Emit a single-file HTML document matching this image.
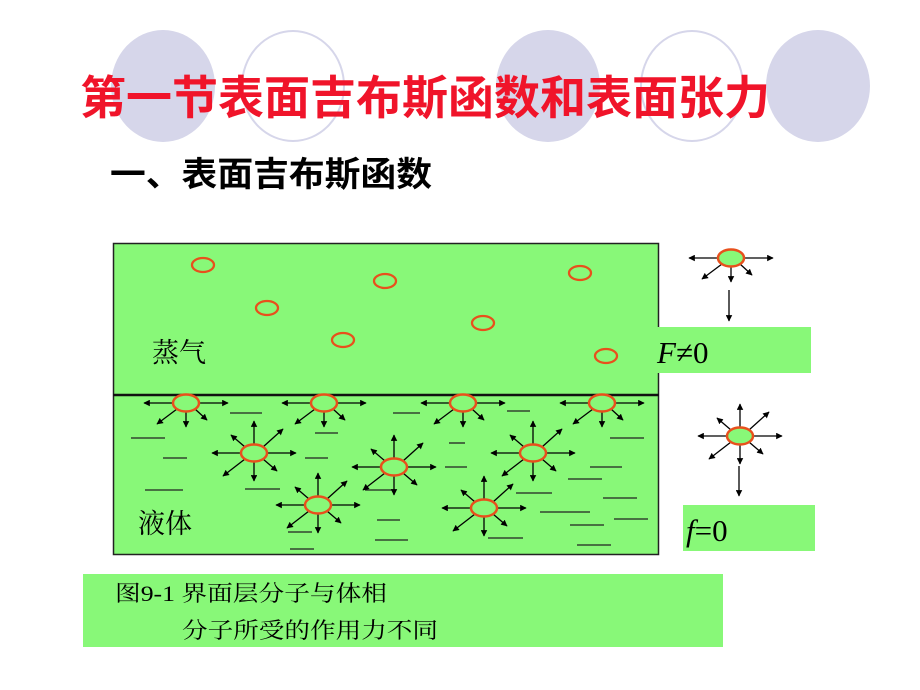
<!DOCTYPE html>
<html><head><meta charset="utf-8"><style>
html,body{margin:0;padding:0;background:#fff;width:920px;height:690px;overflow:hidden}
svg{display:block}
text{font-family:"Liberation Serif","Noto Serif CJK SC","Noto Sans CJK SC",serif}
</style></head><body>
<svg width="920" height="690" viewBox="0 0 920 690" xmlns="http://www.w3.org/2000/svg">
<defs>
<marker id="a" viewBox="0 0 10 10" refX="9" refY="5" markerWidth="5" markerHeight="5" orient="auto"><path d="M0,0L10,5L0,10z" fill="#000"/></marker>
<g id="surf">
<line x1="-13" y1="0" x2="-42" y2="0" stroke="#000" stroke-width="1.3" marker-end="url(#a)"/>
<line x1="13" y1="0" x2="42" y2="0" stroke="#000" stroke-width="1.3" marker-end="url(#a)"/>
<line x1="-9" y1="6" x2="-29" y2="21" stroke="#000" stroke-width="1.3" marker-end="url(#a)"/>
<line x1="0" y1="9" x2="0" y2="24" stroke="#000" stroke-width="1.3" marker-end="url(#a)"/>
<line x1="9" y1="6" x2="21" y2="17" stroke="#000" stroke-width="1.3" marker-end="url(#a)"/>
<ellipse cx="0" cy="0" rx="13" ry="8.5" fill="#88f878" stroke="#e8501c" stroke-width="2.5"/>
</g>
<g id="bulk">
<line x1="-13" y1="0" x2="-42" y2="0" stroke="#000" stroke-width="1.3" marker-end="url(#a)"/>
<line x1="13" y1="0" x2="42" y2="0" stroke="#000" stroke-width="1.3" marker-end="url(#a)"/>
<line x1="0" y1="-9" x2="0" y2="-32" stroke="#000" stroke-width="1.3" marker-end="url(#a)"/>
<line x1="0" y1="9" x2="0" y2="28" stroke="#000" stroke-width="1.3" marker-end="url(#a)"/>
<line x1="-9" y1="-6" x2="-23" y2="-18" stroke="#000" stroke-width="1.3" marker-end="url(#a)"/>
<line x1="9" y1="-6" x2="29" y2="-24" stroke="#000" stroke-width="1.3" marker-end="url(#a)"/>
<line x1="-9" y1="6" x2="-31" y2="23" stroke="#000" stroke-width="1.3" marker-end="url(#a)"/>
<line x1="9" y1="6" x2="23" y2="18" stroke="#000" stroke-width="1.3" marker-end="url(#a)"/>
<ellipse cx="0" cy="0" rx="13" ry="8.5" fill="#88f878" stroke="#e8501c" stroke-width="2.5"/>
</g>
</defs>
<ellipse cx="163" cy="86" rx="52" ry="56" fill="#d6d6ea"/>
<ellipse cx="293" cy="86" rx="51" ry="55" fill="#fff" stroke="#d6d6ea" stroke-width="2"/>
<ellipse cx="548" cy="86" rx="52" ry="56" fill="#d6d6ea"/>
<ellipse cx="692" cy="86" rx="51" ry="55" fill="#fff" stroke="#d6d6ea" stroke-width="2"/>
<ellipse cx="818" cy="86" rx="52" ry="56" fill="#d6d6ea"/>
<text x="80" y="114" font-size="46" fill="#f0142a" font-weight="bold" textLength="690" lengthAdjust="spacingAndGlyphs" style="font-family:'Noto Sans CJK SC',sans-serif">第一节表面吉布斯函数和表面张力</text>
<text x="110" y="186" font-size="34" fill="#000" font-weight="bold" textLength="322" lengthAdjust="spacingAndGlyphs" style="font-family:'Noto Sans CJK SC',sans-serif">一、表面吉布斯函数</text>
<rect x="113.5" y="243.5" width="545" height="311" fill="#88f878" stroke="#222" stroke-width="1.5"/>
<line x1="113" y1="395" x2="659" y2="395" stroke="#111" stroke-width="2.5"/>
<g fill="none" stroke="#e8501c" stroke-width="2.3">
<ellipse cx="203" cy="265" rx="11" ry="7"/>
<ellipse cx="385" cy="281" rx="11" ry="7"/>
<ellipse cx="580" cy="273" rx="11" ry="7"/>
<ellipse cx="267" cy="308" rx="11" ry="7"/>
<ellipse cx="483" cy="323" rx="11" ry="7"/>
<ellipse cx="343" cy="340" rx="11" ry="7"/>
<ellipse cx="606" cy="356" rx="11" ry="7"/>
</g>
<text x="152" y="362" font-size="27" fill="#000" style="font-family:'Noto Serif CJK SC',serif">蒸气</text>
<text x="138" y="533" font-size="27" fill="#000" style="font-family:'Noto Serif CJK SC',serif">液体</text>
<g stroke="#222" stroke-width="1.3">
<line x1="230" y1="413" x2="262" y2="413"/><line x1="393" y1="413" x2="420" y2="413"/>
<line x1="507" y1="411" x2="530" y2="411"/><line x1="610" y1="438" x2="644" y2="438"/>
<line x1="131" y1="438" x2="165" y2="438"/><line x1="163" y1="458" x2="187" y2="458"/>
<line x1="145" y1="490" x2="183" y2="490"/><line x1="245" y1="489" x2="280" y2="489"/>
<line x1="315" y1="433" x2="338" y2="433"/><line x1="305" y1="458" x2="328" y2="458"/>
<line x1="449" y1="443" x2="465" y2="443"/><line x1="445" y1="467" x2="467" y2="467"/>
<line x1="590" y1="467" x2="622" y2="467"/><line x1="568" y1="479" x2="602" y2="479"/>
<line x1="516" y1="493" x2="552" y2="493"/><line x1="603" y1="498" x2="637" y2="498"/>
<line x1="540" y1="512" x2="590" y2="512"/><line x1="614" y1="519" x2="648" y2="519"/>
<line x1="570" y1="525" x2="604" y2="525"/><line x1="577" y1="545" x2="611" y2="545"/>
<line x1="288" y1="532" x2="312" y2="532"/><line x1="290" y1="549" x2="314" y2="549"/>
<line x1="377" y1="520" x2="400" y2="520"/><line x1="375" y1="540" x2="408" y2="540"/>
<line x1="488" y1="538" x2="523" y2="538"/><line x1="365" y1="490" x2="393" y2="490"/>
</g>
<use href="#surf" x="186" y="403"/><use href="#surf" x="324" y="403"/>
<use href="#surf" x="463" y="403"/><use href="#surf" x="602" y="403"/>
<use href="#bulk" x="254" y="453"/><use href="#bulk" x="394" y="467"/>
<use href="#bulk" x="533" y="453"/><use href="#bulk" x="318" y="505"/>
<use href="#bulk" x="484" y="508"/>
<rect x="657" y="327" width="154" height="46" fill="#88f878"/>
<text x="657" y="363" font-size="31" fill="#000"><tspan font-style="italic">F</tspan>≠0</text>
<use href="#surf" x="731" y="258"/>
<line x1="729" y1="290" x2="729" y2="321" stroke="#000" stroke-width="1.3" marker-end="url(#a)"/>
<rect x="683" y="505" width="132" height="46" fill="#88f878"/>
<text x="686" y="541" font-size="31" fill="#000"><tspan font-style="italic">f</tspan>=0</text>
<use href="#bulk" x="740" y="436"/>
<line x1="739" y1="466" x2="739" y2="496" stroke="#000" stroke-width="1.3" marker-end="url(#a)"/>
<rect x="83" y="574" width="640" height="73" fill="#88f878"/>
<text x="115" y="601" font-size="22" fill="#000" textLength="272" lengthAdjust="spacingAndGlyphs">图9-1  界面层分子与体相</text>
<text x="182" y="638" font-size="22" fill="#000" textLength="256" lengthAdjust="spacingAndGlyphs">分子所受的作用力不同</text>
</svg>
</body></html>
